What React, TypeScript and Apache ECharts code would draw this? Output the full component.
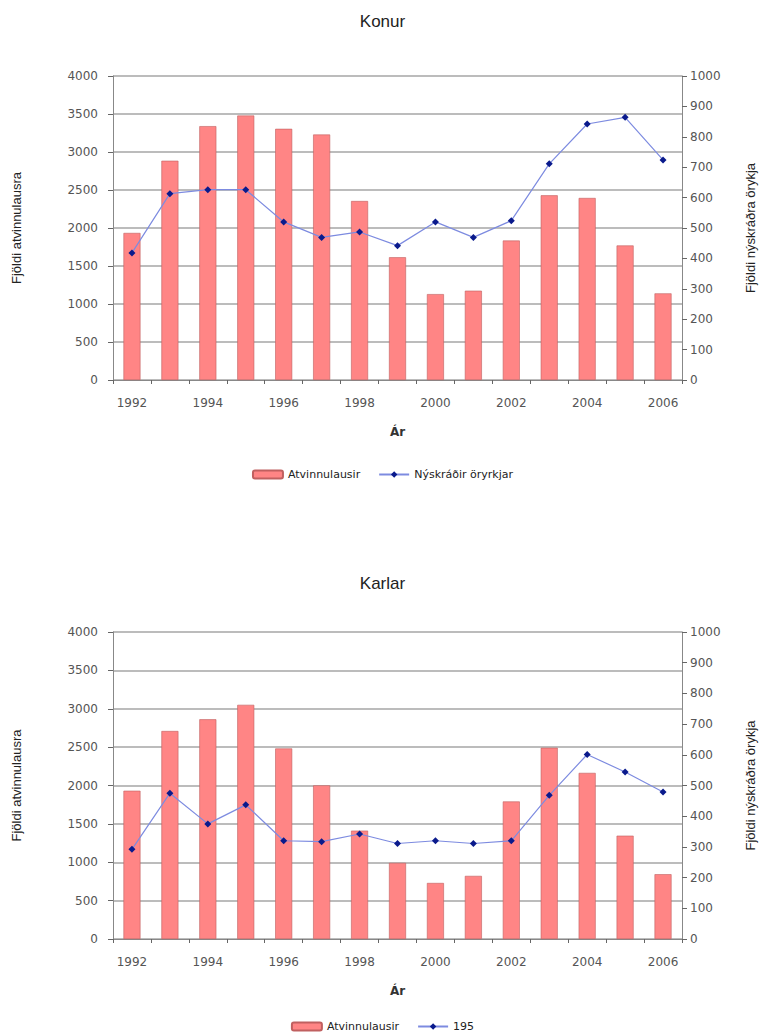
import React, { useEffect, useRef } from "react";
import * as echarts from "echarts";

const years = ["1992","1993","1994","1995","1996","1997","1998","1999","2000","2001","2002","2003","2004","2005","2006"];
const konurAtvinnulausir = [1935, 2885, 3340, 3480, 3305, 3230, 2355, 1615, 1130, 1175, 1835, 2430, 2395, 1770, 1140];
const konurOryrkjar = [418, 613, 626, 626, 520, 469, 487, 442, 520, 469, 524, 711, 842, 864, 724];
const karlarAtvinnulausir = [1932, 2710, 2863, 3051, 2483, 2002, 1412, 992, 730, 822, 1792, 2492, 2164, 1346, 844];
const karlarOryrkjar = [292, 475, 375, 437, 320, 317, 342, 311, 320, 311, 320, 468, 601, 544, 479];
const barName = "Atvinnulausir";
const lineNameTop = "Nýskráðir öryrkjar";
const lineNameBottom = "195";

const BAR = "#ff8585";
const LINE = "#7d8be0";
const MARK = "#0a1a8c";
const GRID = "#a6a6a6";
const LBL = "#555";

const plain = (v: number) => String(v);

function xAxis(gridIndex: number) {
  return {
    type: "category",
    gridIndex,
    data: years,
    boundaryGap: true,
    name: "Ár",
    nameLocation: "middle",
    nameGap: 46,
    nameTextStyle: { fontFamily: "DejaVu Sans", fontSize: 12, fontWeight: "bold", color: "#333" },
    axisLine: { lineStyle: { color: "#888" } },
    axisTick: { show: true, interval: 0, length: 4, lineStyle: { color: "#666" } },
    axisLabel: { interval: 1, margin: 17, fontFamily: "DejaVu Sans", fontSize: 12, color: LBL },
    splitLine: { show: false },
  };
}

function leftAxis(gridIndex: number) {
  return {
    type: "value",
    gridIndex,
    min: 0,
    max: 4000,
    interval: 500,
    name: "Fjöldi atvinnulausra",
    nameLocation: "middle",
    nameGap: 90,
    nameTextStyle: { fontFamily: "Liberation Sans", fontSize: 13, color: "#222" },
    axisLine: { show: true, lineStyle: { color: "#888" } },
    axisTick: { show: true, length: 5, lineStyle: { color: "#666" } },
    axisLabel: { margin: 15, fontFamily: "DejaVu Sans", fontSize: 12, color: LBL, formatter: plain },
    splitLine: { show: true, lineStyle: { color: GRID, width: 1.5 } },
  };
}

function rightAxis(gridIndex: number) {
  return {
    type: "value",
    gridIndex,
    position: "right",
    min: 0,
    max: 1000,
    interval: 100,
    name: "Fjöldi nýskráðra örykja",
    nameLocation: "middle",
    nameGap: 62,
    nameRotate: 90,
    nameTextStyle: { fontFamily: "Liberation Sans", fontSize: 13, color: "#222" },
    axisLine: { show: true, lineStyle: { color: "#888" } },
    axisTick: { show: true, length: 5, lineStyle: { color: "#666" } },
    axisLabel: { margin: 8, fontFamily: "DejaVu Sans", fontSize: 12, color: LBL, formatter: plain },
    splitLine: { show: false },
  };
}

function barSeries(xi: number, yi: number, data: number[]) {
  return {
    type: "bar",
    name: barName,
    xAxisIndex: xi,
    yAxisIndex: yi,
    data,
    barWidth: 17,
    itemStyle: { color: BAR, borderColor: "#c06060", borderWidth: 0.6 },
  };
}

function lineSeries(name: string, xi: number, yi: number, data: number[]) {
  return {
    type: "line",
    name,
    xAxisIndex: xi,
    yAxisIndex: yi,
    data,
    symbol: "diamond",
    symbolSize: 7,
    lineStyle: { color: LINE, width: 1.2 },
    itemStyle: { color: MARK },
    z: 5,
  };
}

export default function App() {
  const ref = useRef<HTMLDivElement>(null);
  useEffect(() => {
    const chart = echarts.init(ref.current!, undefined, { renderer: "svg" });
    const legendText = { fontFamily: "DejaVu Sans", fontSize: 11, color: "#222" };
    chart.setOption({
      animation: false,
      backgroundColor: "#fff",
      title: [
        { text: "Konur", left: "center", top: 8, textStyle: { fontFamily: "Liberation Sans", fontSize: 17, fontWeight: "normal", color: "#222" } },
        { text: "Karlar", left: "center", top: 570, textStyle: { fontFamily: "Liberation Sans", fontSize: 17, fontWeight: "normal", color: "#222" } },
      ],
      legend: [
        {
          top: 464, left: "center", itemWidth: 30, itemHeight: 8, itemGap: 18,
          data: [barName, lineNameTop], textStyle: legendText,
        },
        {
          top: 1016, left: "center", itemWidth: 30, itemHeight: 8, itemGap: 18,
          data: [barName, lineNameBottom], textStyle: legendText,
        },
      ],
      grid: [
        { left: 113, right: 82, top: 76, height: 304 },
        { left: 113, right: 82, top: 632, height: 307 },
      ],
      xAxis: [xAxis(0), xAxis(1)],
      yAxis: [leftAxis(0), rightAxis(0), leftAxis(1), rightAxis(1)],
      series: [
        barSeries(0, 0, konurAtvinnulausir),
        lineSeries(lineNameTop, 0, 1, konurOryrkjar),
        barSeries(1, 2, karlarAtvinnulausir),
        lineSeries(lineNameBottom, 1, 3, karlarOryrkjar),
      ],
    });
    return () => chart.dispose();
  }, []);
  return <div ref={ref} style={{ position: "absolute", left: 0, top: 0, width: 765, height: 1036 }} />;
}
